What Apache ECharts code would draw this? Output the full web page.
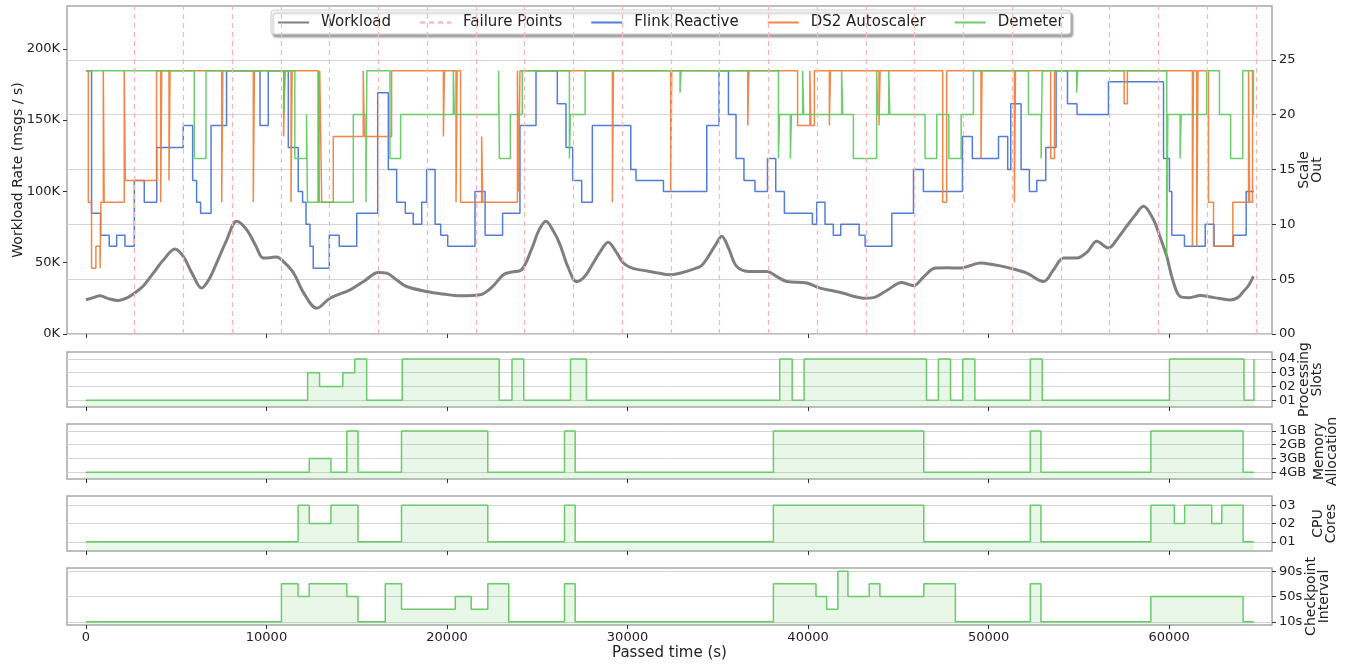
<!DOCTYPE html>
<html>
<head>
<meta charset="utf-8">
<script src="https://cdn.jsdelivr.net/npm/echarts@6/dist/echarts.min.js"></script>
<style>
  html, body { margin: 0; padding: 0; background: #fff; }
  #chart { width: 1355px; height: 667px; }
</style>
</head>
<body>
<div id="chart"></div>
<script>
// time axis (s)
const xTicks = [0, 10000, 20000, 30000, 40000, 50000, 60000];

// workload rate, thousands of msgs/s
const workloadT = [0, 400, 780, 1200, 1770, 2300, 2700, 3200, 3730, 4300,
  4930, 5390, 5900, 6400, 6800, 7240, 7800, 8350, 8900, 9400,
  9820, 10200, 10560, 11000, 11500, 12100, 12780, 13520, 14630, 15400,
  16200, 16660, 17200, 17760, 18870, 19800, 20720, 21830, 22500, 23120,
  23600, 24140, 24700, 25100, 25480, 25900, 26260, 26700, 27180, 27600,
  28100, 28500, 28930, 29350, 29770, 30300, 30880, 31600, 32350, 33000,
  33650, 34100, 34480, 34900, 35220, 35600, 36050, 36790, 37710, 38300,
  38820, 39930, 40670, 41300, 41960, 42500, 43070, 43620, 44360, 45190,
  45840, 46400, 47040, 47700, 48420, 49000, 49530, 50300, 51190, 52120,
  53040, 53600, 54150, 54890, 55500, 55990, 56640, 57150, 57650, 58100,
  58580, 59130, 59500, 59870, 60200, 60610, 61100, 61720, 62500, 63380,
  63800, 64120, 64400, 64670];
const workloadV = [24, 25.5, 26.8, 25, 23.5, 25.5, 28.7, 34, 42.7, 52,
  59.6, 54.4, 42, 32.2, 38, 49.8, 66, 79.1, 73.2, 62,
  53.3, 53.5, 54, 50, 42.7, 28, 18.1, 25.1, 31, 37,
  43.2, 42.7, 38, 33.3, 29.8, 28, 26.8, 27.5, 33, 41.5,
  43.5, 45.1, 60, 73, 79.1, 72, 62.7, 47, 36.8, 40,
  49.8, 58, 64.3, 58, 49.8, 46, 44.6, 43, 41.5, 43,
  45.5, 48, 54.4, 63, 68.5, 60, 47.4, 43.9, 43.9, 40,
  36.8, 35.7, 32.2, 30.5, 28.6, 26.5, 25.1, 25.5, 30.5, 36.1,
  33.8, 40, 46.2, 46.5, 46.2, 48, 49.8, 48.5, 46.2, 42.7,
  36.8, 45, 53.3, 53.3, 58, 65, 60.3, 67, 75.6, 83,
  89.6, 80.3, 68, 54.4, 38, 26.3, 25.5, 27, 25.5, 23.9,
  25.5, 29.8, 34, 40.4];

const failureT = [2700, 5400, 8100, 10800, 13500, 16200, 18900, 21600, 24300, 27000,
  29700, 32400, 35100, 37800, 40500, 43200, 45900, 48600, 51300, 54000,
  56700, 59400, 62100, 64800];

// scale out (parallelism), value holds from each time on
const flinkT = [0, 310, 810, 1290, 1700, 2160, 2680, 3230, 3920, 5390,
  5910, 6130, 6350, 6930, 7790, 9640, 10100, 11210, 11760, 12000,
  12190, 12410, 12590, 13480, 14030, 15000, 16160, 16750, 17210, 17690,
  18130, 18600, 18870, 19340, 19650, 20040, 21550, 22110, 23080, 24040,
  24930, 26110, 26590, 26960, 27460, 28050, 30180, 30470, 31990, 34390,
  35070, 35590, 36010, 36450, 37060, 37750, 38210, 38690, 40240, 40480,
  40940, 41400, 41810, 42830, 43160, 44640, 45840, 46390, 48550, 49100,
  50550, 51060, 51230, 51800, 52260, 52670, 53170, 53740, 54370, 54900,
  56640, 59690, 60020, 60150, 60850, 62000, 62490, 63560, 64270, 64700];
const flinkV = [24, 11, 9, 8, 9, 8, 14, 12, 17, 19,
  14, 12, 11, 19, 24, 19, 24, 17, 13, 12,
  10, 8, 6, 9, 8, 11, 22, 15, 12, 11,
  10, 12, 15, 10, 9, 8, 13, 9, 11, 19,
  24, 21, 17, 14, 12, 19, 15, 14, 13, 19,
  24, 20, 16, 14, 13, 16, 13, 11, 10, 12,
  10, 9, 10, 9, 8, 11, 15, 13, 18, 16,
  18, 15, 21, 15, 13, 14, 17, 24, 21, 20,
  23, 16, 13, 9, 8, 10, 8, 9, 13, 13];

const ds2T = [0, 130, 310, 550, 780, 830, 960, 1010, 2120, 2180,
  3910, 4140, 4200, 4600, 4660, 7520, 7580, 9270, 9330, 10950,
  11010, 11360, 11420, 12870, 12950, 13060, 13700, 15360, 15420, 16930,
  19800, 19860, 20500, 20560, 20750, 21920, 21980, 23900, 23960, 24040,
  29160, 29220, 32390, 32450, 36660, 36720, 39420, 40100, 40160, 40350,
  41180, 41240, 43930, 43990, 47460, 47680, 49580, 49640, 51430, 51490,
  53440, 53650, 57510, 57690, 61290, 61350, 61530, 61600, 62180, 62460,
  63530, 64400, 64460, 64620, 64700];
const ds2V = [24, 12, 6, 8, 6, 12, 24, 12, 24, 14,
  24, 12, 24, 14, 24, 12, 24, 12, 24, 18,
  24, 12, 24, 12, 24, 12, 18, 24, 18, 24,
  18, 24, 12, 24, 12, 18, 12, 24, 13, 24,
  12, 24, 13, 24, 19, 24, 19, 24, 19, 24,
  19, 24, 19, 24, 12, 24, 16, 24, 12, 24,
  16, 24, 21, 24, 8, 24, 8, 24, 12, 8,
  12, 24, 12, 24, 24];

const demeterT = [0, 6000, 6650, 10970, 11030, 11570, 12220, 12270, 12870, 12930,
  14810, 15510, 15560, 16840, 17430, 20350, 20410, 22860, 22900, 23510,
  24170, 26780, 26840, 27650, 32910, 32970, 38360, 38420, 39020, 39080,
  39700, 39760, 41860, 41920, 42510, 43800, 43860, 44470, 44530, 46480,
  47130, 47800, 48480, 49160, 52210, 52910, 52970, 54880, 54940, 59870,
  59930, 60610, 60670, 62080, 62790, 63410, 64080, 64670, 64700];
const demeterV = [24, 16, 24, 20, 24, 16, 20, 12, 24, 12,
  20, 12, 24, 16, 20, 24, 20, 24, 16, 20,
  24, 16, 20, 24, 22, 24, 16, 20, 16, 20,
  24, 20, 24, 20, 16, 24, 20, 24, 20, 16,
  20, 16, 20, 24, 20, 16, 24, 22, 24, 7,
  20, 16, 20, 24, 20, 16, 24, 20, 20];

// Demeter configuration knobs (levels)
const slotsT = [0, 12280, 12940, 14230, 14890, 15550, 17520, 22890, 23600, 24250,
  26840, 27720, 38430, 39120, 39780, 46560, 47220, 47890, 48570, 49240,
  52310, 52970, 60020, 64150, 64700];
const slotsV = [1, 3, 2, 3, 4, 1, 4, 1, 4, 1,
  4, 1, 4, 1, 4, 1, 4, 1, 4, 1,
  4, 1, 4, 1, 4];
const slotTicks = [1, 2, 3, 4];
const slotLabels = ['01', '02', '03', '04'];

const memT = [0, 12370, 13570, 14450, 15070, 17480, 22260, 26510, 27100, 38080,
  46410, 52310, 52900, 58990, 64100, 64700];
const memV = [1, 2, 1, 4, 1, 4, 1, 4, 1, 4,
  1, 4, 1, 4, 1, 1];
const memTicks = [1, 2, 3, 4];
const memLabels = ['4GB', '3GB', '2GB', '1GB'];

const cpuT = [0, 11750, 12370, 13570, 15070, 17480, 22260, 26510, 27100, 38080,
  46410, 52310, 52900, 58990, 60290, 60860, 62360, 62920, 64100, 64700];
const cpuV = [1, 3, 2, 3, 1, 3, 1, 3, 1, 3,
  1, 3, 1, 3, 2, 3, 2, 3, 1, 1];
const cpuTicks = [1, 2, 3];
const cpuLabels = ['01', '02', '03'];

const ckptT = [0, 10830, 11750, 12370, 14450, 15070, 16580, 17480, 20460, 21340,
  22260, 23420, 26510, 27100, 38080, 40440, 41030, 41650, 42210, 43390,
  43980, 46410, 48160, 52310, 52900, 58990, 64100, 64700];
const ckptV = [10, 70, 50, 70, 50, 10, 70, 30, 50, 30,
  70, 10, 70, 10, 70, 50, 30, 90, 50, 70,
  50, 70, 10, 70, 10, 50, 10, 10];
const ckptTicks = [10, 50, 90];
const ckptLabels = ['10s', '50s', '90s'];

const leftTicks = [0, 50, 100, 150, 200];
const rightTicks = [0, 5, 10, 15, 20, 25];

const zip = (ts, vs) => ts.map((t, i) => [t, vs[i]]);

const FONT = 'DejaVu Sans';
const GRID_BORDER = '#a8a8a8';
const GRID_LINE = '#d4d4d4';
const KNOB_LINE = '#6acb6a';
const KNOB_FILL = 'rgba(110, 200, 110, 0.22)';

const grids = [
  { top: 6, height: 328 },
  { top: 352, height: 55 },
  { top: 424, height: 55 },
  { top: 496, height: 55 },
  { top: 568, height: 57 }
].map(g => ({ ...g, left: 67, right: 83, show: true, borderColor: GRID_BORDER, borderWidth: 1.5 }));

const xAxis = grids.map((g, i) => ({
  type: 'value',
  gridIndex: i,
  min: -1050,
  max: 65700,
  axisLine: { show: false, onZero: false },
  splitLine: { show: false },
  axisTick: { show: true, length: 4, customValues: xTicks, lineStyle: { color: '#333' } },
  axisLabel: {
    show: i === 4,
    customValues: xTicks,
    margin: 6,
    fontSize: 13,
    color: '#222',
    fontFamily: FONT,
    formatter: v => String(v)
  },
  name: i === 4 ? 'Passed time (s)' : '',
  nameLocation: 'middle',
  nameGap: 21,
  nameMoveOverlap: false,
  nameTextStyle: { fontSize: 15, color: '#222', fontFamily: FONT }
}));

function knobAxis(gridIndex, min, max, ticks, labels, name, gap) {
  return {
    type: 'value',
    gridIndex,
    position: 'right',
    min, max,
    axisLine: { show: false, onZero: false },
    axisTick: { show: true, length: 4, customValues: ticks, lineStyle: { color: '#333' } },
    axisLabel: {
      customValues: ticks,
      margin: 7,
      fontSize: 13,
      color: '#222',
      fontFamily: FONT,
      formatter: v => labels[ticks.indexOf(v)]
    },
    splitLine: { show: true, lineStyle: { color: GRID_LINE, width: 1 } },
    name,
    nameLocation: 'middle',
    nameRotate: 90,
    nameGap: gap,
    nameMoveOverlap: false,
    nameTextStyle: { fontSize: 14, color: '#222', fontFamily: FONT, lineHeight: 13 }
  };
}

const yAxis = [
  {
    type: 'value',
    gridIndex: 0,
    position: 'left',
    min: 0,
    max: 230,
    axisLine: { show: false, onZero: false },
    axisTick: { show: true, length: 4, customValues: leftTicks, lineStyle: { color: '#333' } },
    axisLabel: {
      customValues: leftTicks,
      margin: 7,
      fontSize: 13,
      color: '#222',
      fontFamily: FONT,
      formatter: v => v + 'K'
    },
    splitLine: { show: false },
    name: 'Workload Rate (msgs / s)',
    nameLocation: 'middle',
    nameRotate: 90,
    nameGap: 42,
    nameMoveOverlap: false,
    nameTextStyle: { fontSize: 14, color: '#222', fontFamily: FONT }
  },
  {
    type: 'value',
    gridIndex: 0,
    position: 'right',
    min: 0,
    max: 29.9,
    axisLine: { show: false, onZero: false },
    axisTick: { show: true, length: 4, customValues: rightTicks, lineStyle: { color: '#333' } },
    axisLabel: {
      customValues: rightTicks,
      margin: 7,
      fontSize: 13,
      color: '#222',
      fontFamily: FONT,
      formatter: v => String(v).padStart(2, '0')
    },
    splitLine: { show: true, lineStyle: { color: GRID_LINE, width: 1 } },
    name: 'Scale\nOut',
    nameLocation: 'middle',
    nameRotate: 90,
    nameGap: 26,
    nameMoveOverlap: false,
    nameTextStyle: { fontSize: 14, color: '#222', fontFamily: FONT, lineHeight: 13 }
  },
  knobAxis(1, 0.5, 4.5, slotTicks, slotLabels, 'Processing\nSlots', 26),
  knobAxis(2, 0.5, 4.5, memTicks, memLabels, 'Memory\nAllocation', 41),
  knobAxis(3, 0.5, 3.5, cpuTicks, cpuLabels, 'CPU\nCores', 40),
  knobAxis(4, 5, 95, ckptTicks, ckptLabels, 'Checkpoint\nInterval', 33)
];

function scaleSeries(name, ts, vs, color) {
  return {
    name,
    type: 'line',
    xAxisIndex: 0,
    yAxisIndex: 1,
    step: 'end',
    symbol: 'none',
    data: zip(ts, vs),
    lineStyle: { color, width: 1.5, opacity: 0.9 },
    itemStyle: { color }
  };
}

function knobSeries(i, ts, vs) {
  return {
    type: 'line',
    xAxisIndex: i,
    yAxisIndex: i + 1,
    step: 'end',
    symbol: 'none',
    data: zip(ts, vs),
    lineStyle: { color: KNOB_LINE, width: 1.5 },
    itemStyle: { color: KNOB_LINE },
    areaStyle: { color: KNOB_FILL, origin: 'start' }
  };
}

const option = {
  animation: false,
  textStyle: { fontFamily: FONT },
  grid: grids,
  xAxis,
  yAxis,
  legend: {
    left: 271,
    top: 10,
    padding: [5, 7, 4, 6],
    itemWidth: 31,
    itemHeight: 16,
    itemGap: 28,
    // hide the marker dot, keep only the line stroke
    itemStyle: { color: 'rgba(0,0,0,0)', borderWidth: 0 },
    backgroundColor: '#fff',
    borderColor: '#cfcfcf',
    borderWidth: 1,
    borderRadius: 3,
    shadowColor: 'rgba(0,0,0,0.35)',
    shadowBlur: 2,
    shadowOffsetX: 2,
    shadowOffsetY: 3,
    formatter: name => '{t|' + name + '}',
    textStyle: {
      fontSize: 15, color: '#222', fontFamily: FONT,
      rich: { t: { fontSize: 15, color: '#222', fontFamily: FONT, padding: [0, 0, 0, 7] } }
    },
    data: ['Workload', 'Failure Points', 'Flink Reactive', 'DS2 Autoscaler', 'Demeter']
  },
  series: [
    {
      name: 'Workload',
      type: 'line',
      xAxisIndex: 0,
      yAxisIndex: 0,
      symbol: 'none',
      smooth: 0.35,
      data: zip(workloadT, workloadV),
      lineStyle: { color: '#7f7f7f', width: 3 },
      itemStyle: { color: '#7f7f7f' },
      z: 1
    },
    {
      name: 'Failure Points',
      type: 'line',
      xAxisIndex: 0,
      yAxisIndex: 1,
      symbol: 'none',
      data: [],
      lineStyle: { color: '#ffadad', width: 1.3, type: [5, 4] },
      itemStyle: { color: '#ffadad' },
      markLine: {
        silent: true,
        symbol: ['none', 'none'],
        label: { show: false },
        lineStyle: { color: '#ffb3b3', width: 1.2, type: [5, 4] },
        data: failureT.map(t => ({ xAxis: t }))
      },
      z: 0
    },
    scaleSeries('Flink Reactive', flinkT, flinkV, '#3f6fd6'),
    scaleSeries('DS2 Autoscaler', ds2T, ds2V, '#f07a34'),
    scaleSeries('Demeter', demeterT, demeterV, '#5cc95c'),
    knobSeries(1, slotsT, slotsV),
    knobSeries(2, memT, memV),
    knobSeries(3, cpuT, cpuV),
    knobSeries(4, ckptT, ckptV)
  ]
};

const chart = echarts.init(document.getElementById('chart'));
chart.setOption(option);
</script>
</body>
</html>
